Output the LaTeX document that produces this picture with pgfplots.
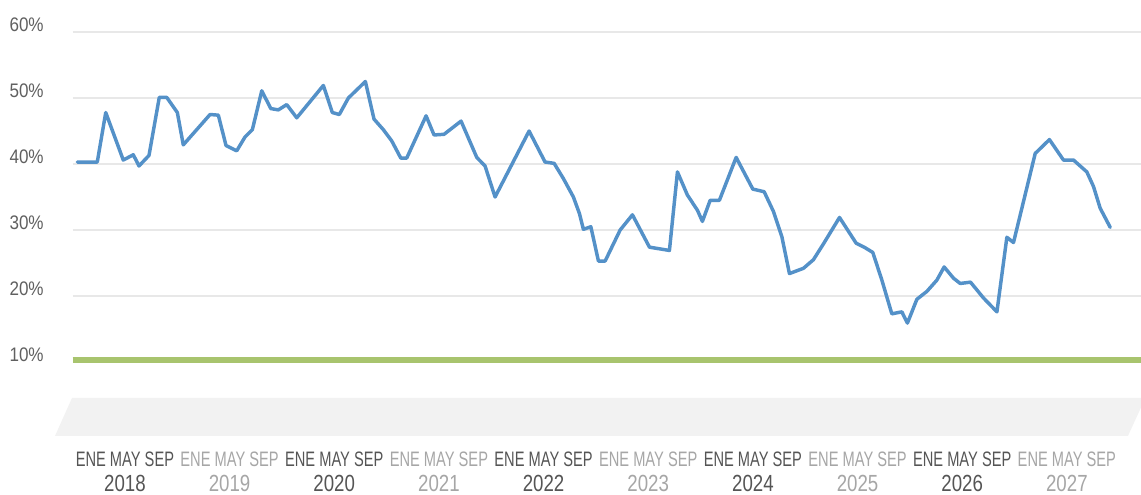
\documentclass[border=0pt]{standalone}
\usepackage{pgfplots}
\pgfplotsset{compat=1.18}
\usepackage{fontspec}
\setmainfont{Liberation Sans}
\newfontfamily\monthfont{Liberation Sans}[FakeStretch=0.70]
\newfontfamily\yearfont{Liberation Sans}[FakeStretch=0.80]
\newfontfamily\yfont{Liberation Sans}[FakeStretch=0.87]
\definecolor{lineblue}{HTML}{5491C8}
\definecolor{limegreen}{HTML}{A8C46E}
\definecolor{bandgray}{HTML}{F2F2F2}
\definecolor{gridgray}{HTML}{E8E8E8}
\definecolor{dk}{HTML}{555555}
\definecolor{lt}{HTML}{A6A6A6}
\definecolor{ylab}{HTML}{606060}
\newcommand{\yl}[2]{{\color{#1}\monthfont\fontsize{15.7}{18}\selectfont ENE MAY SEP}\\[5pt]{\color{#1}\yearfont\fontsize{17.5}{18}\selectfont #2}}
\begin{document}
\begin{tikzpicture}
\begin{axis}[
  at={(0,0)}, anchor=south west,
  scale only axis,
  width=801.3pt, height=306.9pt,
  xmin=0, xmax=122.5,
  ymin=-2, ymax=60,
  clip=false,
  axis line style={draw=none},
  major tick length=0pt,
  ytick={10,20,30,40,50,60},
  yticklabels={10\%,20\%,30\%,40\%,50\%,60\%},
  yticklabel style={anchor=east, inner sep=0pt, xshift=-21.5pt, yshift=5.5pt,
    font=\yfont\fontsize{14.7}{16}\selectfont, text=ylab},
  ymajorgrids,
  grid style={gridgray, line width=0.9pt},
  xtick={6,18,30,42,54,66,78,90,102,114},
  xticklabels={{\yl{dk}{2018}},{\yl{lt}{2019}},{\yl{dk}{2020}},{\yl{lt}{2021}},{\yl{dk}{2022}},{\yl{lt}{2023}},{\yl{dk}{2024}},{\yl{lt}{2025}},{\yl{dk}{2026}},{\yl{lt}{2027}}},
  xticklabel style={anchor=north, inner sep=0pt, yshift=-7.9pt, align=center},
]
\fill[bandgray] (axis cs:-0.07,4.55) -- (axis cs:123,4.55) -- (axis cs:121.0,-1.21) -- (axis cs:-2.02,-1.21) -- cycle;
\addplot[limegreen, line width=4.7pt] coordinates {(0,10.35) (122.5,10.35)};
\addplot[lineblue, line width=2.6pt, line join=round, line cap=round] coordinates {
(0.54,40.3) (2.83,40.3) (3.80,47.8) (5.81,40.6) (6.96,41.4) (7.61,39.7) (8.76,41.3)
(9.94,50.1) (10.79,50.1) (12.01,47.8) (12.69,42.9) (15.76,47.5) (16.71,47.4) (17.59,42.8)
(18.82,42.0) (19.77,44.1) (20.61,45.2) (21.69,51.1) (22.72,48.4) (23.59,48.2) (24.55,49.0)
(25.70,47.0) (28.75,51.9) (29.78,47.8) (30.58,47.5) (31.62,50.0) (33.57,52.5) (34.56,46.8)
(35.63,45.2) (36.59,43.5) (37.63,40.9) (38.31,40.9) (40.53,47.3) (41.44,44.4) (42.59,44.5)
(44.54,46.5) (46.34,41.0) (47.29,39.7) (48.44,35.0) (52.34,45.0) (54.17,40.3) (55.21,40.1)
(56.27,37.8) (57.42,35.0) (58.11,32.5) (58.57,30.1) (59.42,30.5) (60.29,25.3) (61.06,25.3)
(62.78,30.0) (64.19,32.3) (66.14,27.4) (68.43,26.9) (69.35,38.8) (70.49,35.3) (71.64,33.0)
(72.21,31.3) (73.10,34.5) (74.16,34.5) (76.08,41.0) (77.99,36.2) (79.29,35.8) (80.36,32.8)
(81.32,29.0) (82.19,23.4) (83.80,24.2) (84.94,25.5) (86.09,27.9) (87.93,31.9) (89.84,28.0)
(90.76,27.4) (91.75,26.6) (92.79,22.4) (93.93,17.3) (95.08,17.6) (95.72,15.9) (96.80,19.5)
(97.95,20.7) (99.09,22.4) (99.93,24.4) (101.0,22.7) (101.77,21.9) (102.95,22.1) (104.44,19.7)
(105.98,17.6) (107.12,28.9) (107.88,28.1) (110.37,41.6) (112.0,43.7) (113.61,40.6) (114.76,40.6)
(116.29,38.8) (117.05,36.6) (117.82,33.3) (118.97,30.4)};
\end{axis}
\pgfresetboundingbox
\path[use as bounding box] (-54.45pt,-39.6pt) rectangle (801.3pt,330.9pt);
\end{tikzpicture}
\end{document}
